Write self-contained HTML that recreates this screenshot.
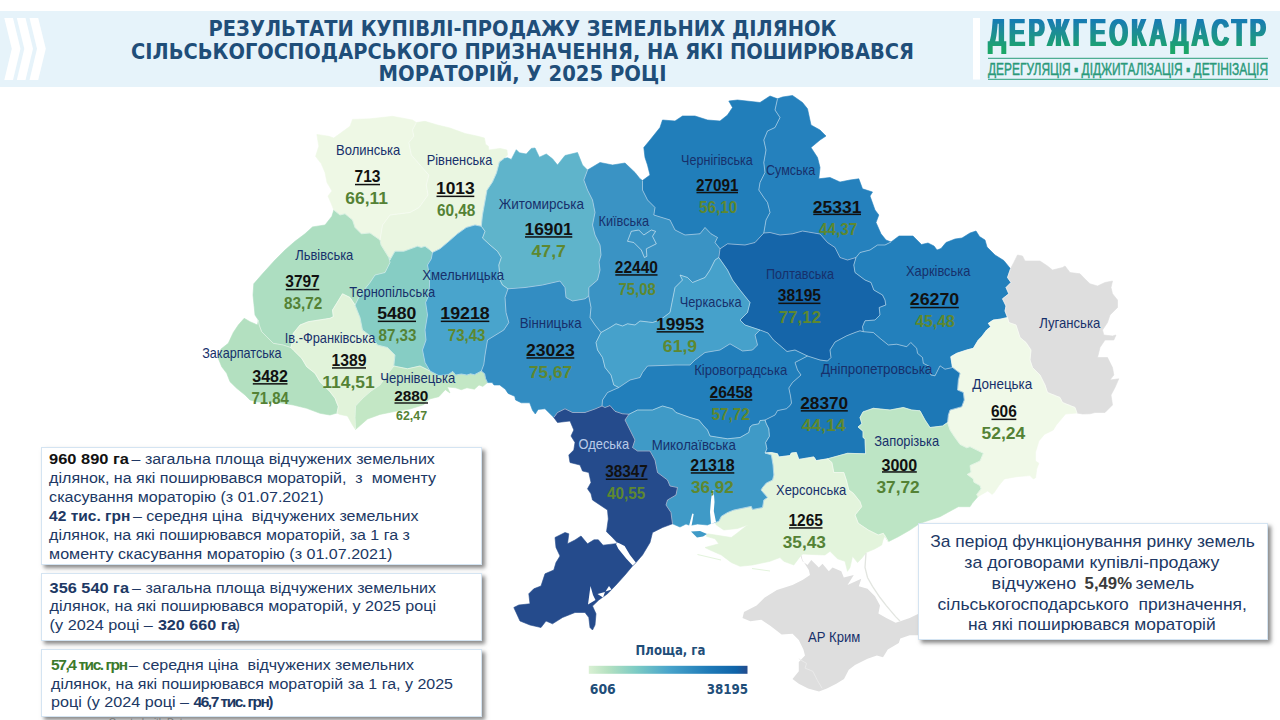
<!DOCTYPE html>
<html lang="uk"><head><meta charset="utf-8"><title>Результати купівлі-продажу земельних ділянок</title>
<style>
html,body{margin:0;padding:0;background:#fff}
body{width:1280px;height:720px;overflow:hidden;position:relative;font-family:"Liberation Sans", sans-serif}
#band{position:absolute;left:0;top:11px;width:1280px;height:76px;background:#e6f3fa}
svg{position:absolute;left:0;top:0}
.box{position:absolute;background:#fff;border:1px solid #d4e4f2;box-sizing:border-box;box-shadow:2.5px 3px 4px rgba(60,60,60,.6)}
text{font-family:"Liberation Sans", sans-serif;white-space:pre}
</style></head><body>
<div id="band"></div>
<svg id="map" width="1280" height="720" viewBox="0 0 1280 720">
<defs><linearGradient id="leg" x1="0" x2="1" y1="0" y2="0">
<stop offset="0" stop-color="#d9f0d3"/><stop offset="0.12" stop-color="#b5e1c1"/><stop offset="0.3" stop-color="#7ccbc4"/>
<stop offset="0.5" stop-color="#4aa5cb"/><stop offset="0.75" stop-color="#1f7bb8"/><stop offset="0.93" stop-color="#0f63a8"/><stop offset="1" stop-color="#254b8c"/>
</linearGradient></defs>
<g>
<path d="M4.3 18H13L20.5 48.8 13 80H4.3L11.8 48.8Z M16.8 18H25.5L33 48.8 25.5 80H16.8L24.3 48.8Z M29.5 18H38.2L45.8 48.8 38.2 80H29.5L37 48.8Z" fill="#fff"/>
</g>
<g id="regions">
<path d="M801.3 555 802.5 560 808.8 570 810 575 802.5 580 792.5 585 776.9 590 764.4 597.8 756.6 605.6 744 611.9 742.5 618.1 750.3 621.3 761.3 619.7 770.6 625.9 781.6 634.5 792.5 633.8 798.8 640 803.4 649.4 805 655.6 798.8 661.9 798.8 671.3 792.5 679 798.8 683.8 808.1 688.4 819 691.6 826.9 688.4 836.3 683.8 844 679 848.8 669.7 855 665 867.5 658.8 876.9 655.6 883 657.2 887.8 649.4 898.8 643 900.3 638.4 909.7 635.3 919 635.3 930 634 930 612 919 613.4 909.7 618.1 900.3 621.3 895.6 622.8 886.3 618.1 878.4 613.4 880 605.6 875 596.3 867.5 588.8 858.8 586.3 861.3 578.8 847.5 585 853.8 575 843.8 577.5 841.3 571.3 832.5 567.5 828.8 571.3 822.5 563.8 818.8 567.5 811.3 560 807.5 565 802.5 561.3 800.5 556Z" fill="#dedede"/>
<path d="M333.8 210 331 203 328 196 332 191 327 182.5 325 172.5 321.3 163.8 315.6 156.3 318.8 146.3 316.9 134.4 328.8 136.3 333.8 138 350 126.3 352.5 119.4 370 118.8 392.5 116.3 412.5 120 416.3 122.5 412.5 130 413.8 136.3 408.8 142.5 411.3 155 420 165 428.8 175 426.3 185 428 195 419 207.5 410 212.5 390 215 382.5 225 380 240 370 233 361.3 233.8 355 227.5 352.5 220 345 213.8 340 215Z" fill="#eef8e5" stroke="#eef8e5" stroke-width="0.6"/>
<path d="M416.3 122.5 425 121.3 437.5 125 450 128 465 133.5 478 136.3 484.4 138 485.6 144.4 488.4 146.3 488.8 150 500 148.4 506.9 150 507.5 155 504 158.5 499.4 162 498 167.5 496.5 173 492.5 182 487 190.3 484.5 204 482.5 215 481.3 226.3 475 225 466.3 227.5 457.5 233.8 447.5 242.5 440 248.8 432.5 252.5 430 250 425 246.3 421.3 247.5 417.5 246.3 403.8 251.3 395 251.3 390 260 388.8 257.5 381 245 380 240 382.5 225 390 215 410 212.5 419 207.5 428 195 426.3 185 428.8 175 420 165 411.3 155 408.8 142.5 413.8 136.3 412.5 130Z" fill="#eaf6e1" stroke="#eaf6e1" stroke-width="0.6"/>
<path d="M258.3 320 255 315 254.2 306.7 253 295 253.8 283.8 262.5 273.8 275 260 285 250 295 241.3 305 233.8 312.5 226.9 325 225 331.9 216.3 333.8 210 340 215 345 213.8 352.5 220 355 227.5 361.3 233.8 370 233 380 240 381 245 388.8 257.5 390 262.5 385 272.5 375 275 370 282.5 360 295 355 305 350 297.5 342.5 293.8 336.7 303.3 332.5 310 333.3 316.7 330 318.3 308.3 321.7 300 325 293.3 333.3 292.5 341.7 290.8 347.5 283.3 345 273.3 343.3 266.7 336.7 261.7 331.7 259.2 325Z" fill="#addec1" stroke="#addec1" stroke-width="0.6"/>
<path d="M337 413 330 415 320 413.3 306.7 408.3 293.3 405 275 402 258 402 250 400 245 395 236.7 388.3 230 381.7 226.7 373.3 221.7 366.7 218.3 358.3 221 349 228.3 343.3 233.3 332.5 238.3 325 244.2 318.3 250 321.7 257.5 325 258.3 320 259.2 325 261.7 331.7 266.7 336.7 273.3 343.3 283.3 345 290.8 347.5 293.3 350 301.7 358.3 306.7 366.7 315 373.3 320 381.7 330 391.7 335 398.3 338.3 406.7Z" fill="#b3e0c0" stroke="#b3e0c0" stroke-width="0.6"/>
<path d="M355.5 429.5 352.5 425 347.5 416 340 414.5 337 413 338.3 406.7 335 398.3 330 391.7 320 381.7 315 373.3 306.7 366.7 301.7 358.3 293.3 350 290.8 347.5 292.5 341.7 293.3 333.3 300 325 308.3 321.7 330 318.3 333.3 316.7 332.5 310 336.7 303.3 342.5 293.8 350 297.5 355 305 360 317.5 362.5 330 372.5 337.5 377.5 345 387.5 347.5 395 355 393.8 366 387 375 380 385 371 391 363 398 355.5 406 355 417.5Z" fill="#e1f3da" stroke="#e1f3da" stroke-width="0.6"/>
<path d="M388.8 257.5 390 260 395 251.3 403.8 251.3 417.5 246.3 421.3 247.5 425 246.3 430 250 432.5 252.5 431.3 258.8 427.5 265 429.5 276 429.5 286 428.5 296 425.6 302.5 427.5 315 425 330 426 340 422.5 350 425 362.5 430 371 420 366 407.5 368.8 393.8 366 395 355 387.5 347.5 377.5 345 372.5 337.5 362.5 330 360 317.5 355 305 360 295 370 282.5 375 275 385 272.5 390 262.5Z" fill="#86cdc4" stroke="#86cdc4" stroke-width="0.6"/>
<path d="M487.5 382.6 482.8 386.4 479 385 474.4 389.2 466.9 387.8 461.3 389.7 455.6 387.8 447.2 386.9 450 393 445.3 389.7 438.8 396.7 429.4 399 423.8 404.7 410 409 395.6 411.3 380 414.4 367.5 419 355.5 429.5 355 417.5 355.5 406 363 398 371 391 380 385 387 375 393.8 366 407.5 368.8 420 366 430 371 438.8 375.6 448 374.7 452.8 371.4 455.6 375 461.3 374 466.9 375 470.6 373.8 474.4 374.7 481.4 371 484.7 373.8 485.6 378.4Z" fill="#c3e7c5" stroke="#c3e7c5" stroke-width="0.6"/>
<path d="M432.5 252.5 440 248.8 447.5 242.5 457.5 233.8 466.3 227.5 475 225 481.3 226.3 485 231.3 482.5 238 490 245 497.5 251.3 501.3 257.5 498.8 265 499.5 272 500 280 502.5 285 508 288.8 505 297.5 506 312.5 508.8 322.5 503.8 330 487.5 340 485 355 483.8 364.4 481.4 371 474.4 374.7 470.6 373.8 466.9 375 461.3 374 455.6 375 452.8 371.4 448 374.7 438.8 375.6 430 371 425 362.5 422.5 350 426 340 425 330 427.5 315 425.6 302.5 428.5 296 429.5 286 429.5 276 427.5 265 431.3 258.8Z" fill="#49a4cc" stroke="#49a4cc" stroke-width="0.6"/>
<path d="M504 158.5 507.5 157.8 511.3 159.4 516.3 149.7 519.4 152.8 526.3 154 531.3 148.4 535 148 539.4 157.2 546.3 154 552.5 158.8 557.5 165 565 155.5 577.5 152.5 582.5 165 587.5 170 583.8 180 587.5 190 592.5 200 595 212.5 592.5 225 595 235 600 245 601 255 599 262 600 270 597.5 280 588.8 287.5 588.8 296 585 298.8 572.5 301 566 297.5 565 287.5 560 281 542.5 285 525 287.5 508 288.8 502.5 285 500 280 499.5 272 498.8 265 501.3 257.5 497.5 251.3 490 245 482.5 238 485 231.3 481.3 226.3 482.5 215 484.5 204 487 190.3 492.5 182 496.5 173 498 167.5 499.4 162Z" fill="#5fb4cb" stroke="#5fb4cb" stroke-width="0.6"/>
<path d="M553.8 417.5 545 408.8 538.1 409.4 535.3 414 532.5 410.3 529.7 402.8 521.3 402.8 515.6 400 514.7 396.3 508.1 393.4 505.3 389.2 499.7 385 494 385 492.2 382.6 487.5 382.6 485.6 378.4 484.7 373.8 481.4 371 483.8 364.4 485 355 487.5 340 503.8 330 508.8 322.5 506 312.5 505 297.5 508 288.8 525 287.5 542.5 285 560 281 565 287.5 566 297.5 572.5 301 585 298.8 588.8 296 591 307.5 590 317.5 595 325 601 332.5 596 342.5 597.5 350 602.5 357.5 605 367.5 611 375 613.8 385 618.8 387.5 607.5 392.5 602.5 400 602 406 595 409 585 412.5 572.5 412.5 565 408.8 557.5 412.5Z" fill="#338dc2" stroke="#338dc2" stroke-width="0.6"/>
<path d="M587.5 170 600 162.5 612.5 165 625 163 635 172.5 640 178.8 642.5 180.5 642.5 190 647.5 200 655 207.5 653.8 215 670 220 675 230 685 235 700 233.8 705 227.5 711 233.8 717.5 237.5 715 242.5 720 248.8 718.8 257.5 715 260 710 270 705 277.5 692.5 282.5 687.5 277.5 680 275 682.5 280 675 287.5 672.5 300 670 312.5 660 320 652.5 322.5 640 321 635 325 627.5 323.8 622.5 326 616 323.8 610 327.5 601 332.5 595 325 590 317.5 591 307.5 588.8 296 588.8 287.5 597.5 280 600 270 599 262 601 255 600 245 595 235 592.5 225 595 212.5 592.5 200 587.5 190 583.8 180Z" fill="#3a93c4" stroke="#3a93c4" stroke-width="0.6"/>
<path d="M642.5 180.5 650 175 647.5 165 645 157.5 643.8 147.5 650 140 660 127.5 662.5 120 675 121 682.5 116 695 116 707.5 120 720 121 727.5 115 732.5 107.5 728.8 101 737.5 100 760 102.5 770 96 777.5 98.8 775 110 780 117.5 775 127.5 767.5 131 763.8 140 766 150 763.8 162.5 765 172.5 760 182.5 758.8 190 763.8 197.5 767.5 202.5 770 212.5 766 220 763.8 233 755 242.5 745 245 727.5 243.8 720 248.8 715 242.5 717.5 237.5 711 233.8 705 227.5 700 233.8 685 235 675 230 670 220 653.8 215 655 207.5 647.5 200 642.5 190Z" fill="#217eba" stroke="#217eba" stroke-width="0.6"/>
<path d="M777.5 98.8 782.5 97 792.5 95.5 802.5 102.5 807.5 108.8 811 125 820 130 826 136 820 140 811 147.5 817.5 157.5 820 167.5 818.8 178.8 830 177.5 840 182 850 180 858.8 178.8 862.5 188.8 872.5 192 870 196 875 210 878.8 215 876 222.5 881 233.8 886 240 891 242 885 245 877.5 245 870 250 860 252.5 856 257.5 847.5 260 840 257.5 835 247.5 827.5 242.5 820 234 802.5 231 792.5 233.8 780 235 770 232.5 763.8 233 766 220 770 212.5 767.5 202.5 763.8 197.5 758.8 190 760 182.5 765 172.5 763.8 162.5 766 150 763.8 140 767.5 131 775 127.5 780 117.5 775 110Z" fill="#2581bd" stroke="#2581bd" stroke-width="0.6"/>
<path d="M763.8 233 770 232.5 780 235 792.5 233.8 802.5 231 820 234 827.5 242.5 835 247.5 840 257.5 847.5 260 856 257.5 853.8 265 855 272.5 865 280 871 282.5 873.8 290 882.5 295 885 300 885.8 305 879.2 307.5 880 315 875 320 865 320.8 862.5 326.7 863.3 331.7 860 330.8 855 332.5 846.7 335.8 835 342 830 350 831 357.5 827.5 361 820 360 807.5 356 795 350 787 351.5 780 345.5 773.5 340 768 333 760 330 745 325 740 320 747.5 312.5 750 302.5 740 290 732.5 280 727.5 270 718.8 257.5 720 248.8 727.5 243.8 745 245 755 242.5Z" fill="#1565a9" stroke="#1565a9" stroke-width="0.6"/>
<path d="M601 332.5 610 327.5 616 323.8 622.5 326 627.5 323.8 635 325 640 321 652.5 322.5 660 320 670 312.5 672.5 300 675 287.5 682.5 280 680 275 687.5 277.5 692.5 282.5 705 277.5 710 270 715 260 718.8 257.5 727.5 270 732.5 280 740 290 750 302.5 747.5 312.5 740 320 745 325 760 330 755 335 757.5 345 752.5 350 742.5 351 730 343.8 720 350 705 352.5 695 360 690 365 675 365 647.5 366 642.5 372.5 640 377.5 630 380 618.8 387.5 613.8 385 611 375 605 367.5 602.5 357.5 597.5 350 596 342.5Z" fill="#46a1cb" stroke="#46a1cb" stroke-width="0.6"/>
<path d="M618.8 387.5 630 380 640 377.5 642.5 372.5 647.5 366 675 365 690 365 695 360 705 352.5 720 350 730 343.8 742.5 351 752.5 350 757.5 345 755 335 760 330 768 333 773.5 340 780 345.5 787 351.5 795 350 807.5 356 795 362.5 797.5 370 801 375 792.5 382.5 788.8 388 790.5 396 791.5 403 790 405.6 786.3 408.8 777.5 410.6 775 415 770 417.5 765 420 760 420.6 758.8 423.8 752.5 425 750 426.9 748.8 432.5 740 437.5 727.5 438.8 710 436 707.5 430 703.8 426 698.8 420 690 417.5 676 412.5 672.5 408.8 662.5 406 652.5 410 637.5 410 629 414.2 622.5 413.8 615 411.3 610 405.6 605 407.5 602 406 602.5 400 607.5 392.5Z" fill="#227fbb" stroke="#227fbb" stroke-width="0.6"/>
<path d="M891 242 899 236 913 236 921.5 244.5 928 243 934 246 937 250 941 248.5 946 242.5 955 239 962 238 970 233 976 231 979.5 236.5 985 240 987 247 995 255 1003.8 260.5 1010.5 268.8 1007.5 277.5 1011 282.5 1006 287.5 1008.8 293.8 1002.5 298.8 1006 306 1005 311 1007.5 317.5 1000 319.2 993.3 320 988.3 323.3 990.8 326.7 986.7 330 981.7 336.7 978.3 340 973.3 348.3 966.7 350 956.7 353.3 950.8 356.7 952.5 367.5 945 369.2 940 365.8 935 375.8 930.8 375 930 366.7 923.3 363.3 922.5 357.5 917.5 353.3 916.7 348.3 910.8 342.5 906.7 346.7 896.7 344.2 888.3 345 880 338.3 873.3 332.5 863.3 331.7 862.5 326.7 865 320.8 875 320 880 315 879.2 307.5 885.8 305 885 300 882.5 295 873.8 290 871 282.5 865 280 855 272.5 853.8 265 856 257.5 860 252.5 870 250 877.5 245 885 245Z" fill="#2380bc" stroke="#2380bc" stroke-width="0.6"/>
<path d="M1010.5 268.8 1013.8 262.5 1017.5 255 1022.5 256 1025 261 1040 261 1047.5 266 1052.5 270 1062.5 267.5 1065 266 1070 272.5 1080 273.8 1086 280 1090 283.8 1097.5 286 1105 282.5 1112.5 281 1111 287.5 1112.5 293.8 1117.5 300 1117.5 307.5 1110 315 1107.5 322.5 1102.5 330 1103.8 335 1112.5 336 1116 335 1113.8 340 1105 340 1100 347.5 1097.5 357.5 1107.5 357.5 1112.5 367.5 1113.8 375 1110 380 1118.8 378.8 1115 387.5 1111 395 1112.5 405 1105 412.5 1095 412.5 1090 413.8 1082.5 414 1077 413 1075 407.5 1062.5 402.5 1060 397.5 1047.5 392.5 1045 385 1040 375 1032.5 367.5 1030 360 1031 350 1026 342.5 1020 337.5 1016 325 1008.8 322.5 1007.5 317.5 1005 311 1006 306 1002.5 298.8 1008.8 293.8 1006 287.5 1011 282.5 1007.5 277.5Z" fill="#dedede" stroke="#dedede" stroke-width="0.6"/>
<path d="M1077 413 1065.6 414 1056.3 425 1053.3 430 1044.4 434.4 1038.9 441 1035.6 452 1035.6 461 1038.9 463.3 1036.7 468.9 1035.6 477.8 1033.3 478.9 1030 475.6 1016.7 476.7 1004.4 478.9 998.9 485.6 994.4 492.2 992.2 494.4 987.8 491 977.8 496.7 976.7 494.4 981 488.9 980 485.6 973.9 482.2 973.3 478.9 967.2 474.4 971 472.2 970 465.6 980 461 983.3 453.3 970 446.7 966.7 447.8 960 444.4 954.4 436.7 950 430 947.5 422.5 948.3 415 950 410 961.7 406.7 964.2 400 963.3 392.5 957.5 390 958.3 380 960 373.3 952.5 367.5 950.8 356.7 956.7 353.3 966.7 350 973.3 348.3 978.3 340 981.7 336.7 986.7 330 990.8 326.7 988.3 323.3 993.3 320 1000 319.2 1007.5 317.5 1008.8 322.5 1016 325 1020 337.5 1026 342.5 1031 350 1030 360 1032.5 367.5 1040 375 1045 385 1047.5 392.5 1060 397.5 1062.5 402.5 1075 407.5Z" fill="#f0f9e8" stroke="#f0f9e8" stroke-width="0.6"/>
<path d="M863.3 331.7 873.3 332.5 880 338.3 888.3 345 896.7 344.2 906.7 346.7 910.8 342.5 916.7 348.3 917.5 353.3 922.5 357.5 923.3 363.3 930 366.7 930.8 375 935 375.8 940 365.8 945 369.2 952.5 367.5 960 373.3 958.3 380 957.5 390 963.3 392.5 964.2 400 961.7 406.7 950 410 948.3 415 947.5 422.5 942.5 426 930 427.5 925 420 920 410.8 911.7 410 903.3 407.5 890 410 873.3 408.3 863 411.9 860 417.5 861.9 423.8 858 426.9 863 431.3 863 437.5 865 438.8 865.6 453.8 847.5 453.3 827.5 458.8 816.3 460.6 813.8 456.9 798.8 459.4 796.3 452.5 791.3 453 790 455.6 778.8 456.9 777.5 453.8 771.3 452.5 765 453 766.9 448.8 765.6 442.5 769.4 436.3 768.8 428.8 766.3 423.8 765 420 770 417.5 775 415 777.5 410.6 786.3 408.8 790 405.6 791.5 403 790.5 396 788.8 388 792.5 382.5 801 375 797.5 370 795 362.5 807.5 356 820 360 827.5 361 831 357.5 830 350 835 342 846.7 335.8 855 332.5 860 330.8Z" fill="#1d78b6" stroke="#1d78b6" stroke-width="0.6"/>
<path d="M977.8 496.7 972.2 503.3 970 506.7 958.3 506.7 940 516.7 920 523.3 910 530 898.3 536.7 888.3 541.7 883.3 533.3 878.3 535 868.3 530 858.3 523.3 855 515 861.7 506.7 860 501.7 853.3 493.3 848.8 490 846.3 480 843.8 472.5 833.8 472.5 831.9 462.5 827.5 458.8 847.5 453.3 865.6 453.8 865 438.8 863 437.5 863 431.3 858 426.9 861.9 423.8 860 417.5 863 411.9 873.3 408.3 890 410 903.3 407.5 911.7 410 920 410.8 925 420 930 427.5 942.5 426 947.5 422.5 950 430 954.4 436.7 960 444.4 966.7 447.8 970 446.7 983.3 453.3 980 461 970 465.6 971 472.2 967.2 474.4 973.3 478.9 973.9 482.2 980 485.6 981 488.9 976.7 494.4Z" fill="#bde5c5" stroke="#bde5c5" stroke-width="0.6"/>
<path d="M888.3 541.7 885 535.5 883 540 881.7 545 875 548.8 866.3 552.5 861.3 558.8 857.5 562.5 852.5 556.3 850 567.5 847.5 571.3 845 561.3 837.5 558.8 830 551.3 825 555 812 554.5 803 554 801.3 555 793.8 565 783.8 561.3 780 557.5 770 561.3 752.5 565 740 566.3 731.3 562.5 721.3 555 710 550 705 547.5 718.8 543.8 715 538.8 706.3 536.3 707.5 533.8 731.3 537.5 736.3 533.8 747.5 525 737.5 528.5 723.8 530 716.3 525 715 522.5 718.8 521.3 721.3 516.3 727.5 512.5 733.8 510 751.3 506.3 752.5 509.4 762.5 507.5 763.8 500 767.5 497.5 761 490 762.5 487.5 766.3 483 772.5 480 773.8 475 773 465 771.3 455 765 453 771.3 452.5 777.5 453.8 778.8 456.9 790 455.6 791.3 453 796.3 452.5 798.8 459.4 813.8 456.9 816.3 460.6 827.5 458.8 831.9 462.5 833.8 472.5 843.8 472.5 846.3 480 848.8 490 853.3 493.3 860 501.7 861.7 506.7 855 515 858.3 523.3 868.3 530 878.3 535 883.3 533.3Z" fill="#e3f4dc" stroke="#e3f4dc" stroke-width="0.6"/>
<path d="M715 522.5 712 523 707.5 525 697.5 524 690 525.5 686 524 680 527 672.5 523.8 671 512.5 666 505 667.5 500 676 495 677.5 487.5 670 486 667.5 480 657.5 472.5 655 460 650 451 637.5 451 632.5 447.5 635 440 630 430 625 420 629 414.2 637.5 410 652.5 410 662.5 406 672.5 408.8 676 412.5 690 417.5 698.8 420 703.8 426 707.5 430 710 436 727.5 438.8 740 437.5 748.8 432.5 750 426.9 752.5 425 758.8 423.8 760 420.6 765 420 766.3 423.8 768.8 428.8 769.4 436.3 765.6 442.5 766.9 448.8 765 453 771.3 455 773 465 773.8 475 772.5 480 766.3 483 762.5 487.5 761 490 767.5 497.5 763.8 500 762.5 507.5 752.5 509.4 751.3 506.3 733.8 510 727.5 512.5 721.3 516.3 718.8 521.3Z" fill="#3f9ac7" stroke="#3f9ac7" stroke-width="0.6"/>
<path d="M672.5 523.8 662.5 527.5 652.5 532.5 650 542.5 642.5 555 636 562.5 632.5 566 625 575 616 585 607.5 593.8 598.8 600 592.5 606 596 613.8 595 625 592.5 630 590 627.5 588.8 617.5 585 612.5 575 612.5 562.5 617.5 552.5 623.8 546 621 541 627.5 530 625 520 621 513.8 607.5 518.8 605 530 603.8 528.8 593.8 533.8 588.8 541 586 545 573.8 553.8 570 556 562.5 560 556 556 547.5 555 537.5 565 532.5 568.8 533.8 567.5 543.8 575 540 581 536 587.5 543.8 594 539.8 598.3 539.8 603 545.2 615.5 543.7 617.4 542.8 612 537 606.5 531.7 608.3 519 607.5 510 600 505 592.5 500 591 493.8 587.5 488.8 591 482.5 588.8 472.5 582.5 471 580 465 570 462.5 568.8 455 573.8 450 575 442.5 571 436 573.8 430 570 421 557.5 422.5 553.8 417.5 557.5 412.5 565 408.8 572.5 412.5 585 412.5 595 409 602 406 605 407.5 610 405.6 615 411.3 622.5 413.8 629 414.2 625 420 630 430 635 440 632.5 447.5 637.5 451 650 451 655 460 657.5 472.5 667.5 480 670 486 677.5 487.5 676 495 667.5 500 666 505 671 512.5Z" fill="#254b8c" stroke="#254b8c" stroke-width="0.6"/>
<path d="M481.4 371 484.7 373.8 485.6 378.4 487.5 382.6 M416.3 122.5 412.5 130 413.8 136.3 408.8 142.5 411.3 155 420 165 428.8 175 426.3 185 428 195 419 207.5 410 212.5 390 215 382.5 225 380 240 M333.8 210 340 215 345 213.8 352.5 220 355 227.5 361.3 233.8 370 233 380 240 M380 240 381 245 388.8 257.5 M388.8 257.5 390 260 395 251.3 403.8 251.3 417.5 246.3 421.3 247.5 425 246.3 430 250 432.5 252.5 M432.5 252.5 440 248.8 447.5 242.5 457.5 233.8 466.3 227.5 475 225 481.3 226.3 M504 158.5 499.4 162 498 167.5 496.5 173 492.5 182 487 190.3 484.5 204 482.5 215 481.3 226.3 M481.3 226.3 485 231.3 482.5 238 490 245 497.5 251.3 501.3 257.5 498.8 265 499.5 272 500 280 502.5 285 508 288.8 M388.8 257.5 390 262.5 385 272.5 375 275 370 282.5 360 295 355 305 M355 305 350 297.5 342.5 293.8 336.7 303.3 332.5 310 333.3 316.7 330 318.3 308.3 321.7 300 325 293.3 333.3 292.5 341.7 290.8 347.5 M258.3 320 259.2 325 261.7 331.7 266.7 336.7 273.3 343.3 283.3 345 290.8 347.5 M290.8 347.5 293.3 350 301.7 358.3 306.7 366.7 315 373.3 320 381.7 330 391.7 335 398.3 338.3 406.7 337 413 M355 305 360 317.5 362.5 330 372.5 337.5 377.5 345 387.5 347.5 395 355 393.8 366 M393.8 366 387 375 380 385 371 391 363 398 355.5 406 355 417.5 355.5 429.5 M393.8 366 407.5 368.8 420 366 430 371 M432.5 252.5 431.3 258.8 427.5 265 429.5 276 429.5 286 428.5 296 425.6 302.5 427.5 315 425 330 426 340 422.5 350 425 362.5 430 371 M430 371 438.8 375.6 448 374.7 452.8 371.4 455.6 375 461.3 374 466.9 375 470.6 373.8 474.4 374.7 481.4 371 M508 288.8 505 297.5 506 312.5 508.8 322.5 503.8 330 487.5 340 485 355 483.8 364.4 481.4 371 M508 288.8 525 287.5 542.5 285 560 281 565 287.5 566 297.5 572.5 301 585 298.8 588.8 296 M587.5 170 583.8 180 587.5 190 592.5 200 595 212.5 592.5 225 595 235 600 245 601 255 599 262 600 270 597.5 280 588.8 287.5 588.8 296 M588.8 296 591 307.5 590 317.5 595 325 601 332.5 M601 332.5 610 327.5 616 323.8 622.5 326 627.5 323.8 635 325 640 321 652.5 322.5 660 320 670 312.5 672.5 300 675 287.5 682.5 280 680 275 687.5 277.5 692.5 282.5 705 277.5 710 270 715 260 718.8 257.5 M642.5 180.5 642.5 190 647.5 200 655 207.5 653.8 215 670 220 675 230 685 235 700 233.8 705 227.5 711 233.8 717.5 237.5 715 242.5 720 248.8 M720 248.8 718.8 257.5 M777.5 98.8 775 110 780 117.5 775 127.5 767.5 131 763.8 140 766 150 763.8 162.5 765 172.5 760 182.5 758.8 190 763.8 197.5 767.5 202.5 770 212.5 766 220 763.8 233 M720 248.8 727.5 243.8 745 245 755 242.5 763.8 233 M763.8 233 770 232.5 780 235 792.5 233.8 802.5 231 820 234 827.5 242.5 835 247.5 840 257.5 847.5 260 856 257.5 M856 257.5 860 252.5 870 250 877.5 245 885 245 891 242 M856 257.5 853.8 265 855 272.5 865 280 871 282.5 873.8 290 882.5 295 885 300 885.8 305 879.2 307.5 880 315 875 320 865 320.8 862.5 326.7 863.3 331.7 M718.8 257.5 727.5 270 732.5 280 740 290 750 302.5 747.5 312.5 740 320 745 325 760 330 M760 330 768 333 773.5 340 780 345.5 787 351.5 795 350 807.5 356 M807.5 356 820 360 827.5 361 831 357.5 830 350 835 342 846.7 335.8 855 332.5 860 330.8 863.3 331.7 M863.3 331.7 873.3 332.5 880 338.3 888.3 345 896.7 344.2 906.7 346.7 910.8 342.5 916.7 348.3 917.5 353.3 922.5 357.5 923.3 363.3 930 366.7 930.8 375 935 375.8 940 365.8 945 369.2 952.5 367.5 M1010.5 268.8 1007.5 277.5 1011 282.5 1006 287.5 1008.8 293.8 1002.5 298.8 1006 306 1005 311 1007.5 317.5 M1007.5 317.5 1000 319.2 993.3 320 988.3 323.3 990.8 326.7 986.7 330 981.7 336.7 978.3 340 973.3 348.3 966.7 350 956.7 353.3 950.8 356.7 952.5 367.5 M1007.5 317.5 1008.8 322.5 1016 325 1020 337.5 1026 342.5 1031 350 1030 360 1032.5 367.5 1040 375 1045 385 1047.5 392.5 1060 397.5 1062.5 402.5 1075 407.5 1077 413 M952.5 367.5 960 373.3 958.3 380 957.5 390 963.3 392.5 964.2 400 961.7 406.7 950 410 948.3 415 947.5 422.5 M947.5 422.5 942.5 426 930 427.5 925 420 920 410.8 911.7 410 903.3 407.5 890 410 873.3 408.3 863 411.9 860 417.5 861.9 423.8 858 426.9 863 431.3 863 437.5 865 438.8 865.6 453.8 847.5 453.3 827.5 458.8 M947.5 422.5 950 430 954.4 436.7 960 444.4 966.7 447.8 970 446.7 983.3 453.3 980 461 970 465.6 971 472.2 967.2 474.4 973.3 478.9 973.9 482.2 980 485.6 981 488.9 976.7 494.4 977.8 496.7 M827.5 458.8 831.9 462.5 833.8 472.5 843.8 472.5 846.3 480 848.8 490 853.3 493.3 860 501.7 861.7 506.7 855 515 858.3 523.3 868.3 530 878.3 535 883.3 533.3 888.3 541.7 M765 453 771.3 452.5 777.5 453.8 778.8 456.9 790 455.6 791.3 453 796.3 452.5 798.8 459.4 813.8 456.9 816.3 460.6 827.5 458.8 M765 420 766.3 423.8 768.8 428.8 769.4 436.3 765.6 442.5 766.9 448.8 765 453 M807.5 356 795 362.5 797.5 370 801 375 792.5 382.5 788.8 388 790.5 396 791.5 403 790 405.6 786.3 408.8 777.5 410.6 775 415 770 417.5 765 420 M629 414.2 637.5 410 652.5 410 662.5 406 672.5 408.8 676 412.5 690 417.5 698.8 420 703.8 426 707.5 430 710 436 727.5 438.8 740 437.5 748.8 432.5 750 426.9 752.5 425 758.8 423.8 760 420.6 765 420 M765 453 771.3 455 773 465 773.8 475 772.5 480 766.3 483 762.5 487.5 761 490 767.5 497.5 763.8 500 762.5 507.5 752.5 509.4 751.3 506.3 733.8 510 727.5 512.5 721.3 516.3 718.8 521.3 715 522.5 M629 414.2 625 420 630 430 635 440 632.5 447.5 637.5 451 650 451 655 460 657.5 472.5 667.5 480 670 486 677.5 487.5 676 495 667.5 500 666 505 671 512.5 672.5 523.8 M602 406 605 407.5 610 405.6 615 411.3 622.5 413.8 629 414.2 M553.8 417.5 557.5 412.5 565 408.8 572.5 412.5 585 412.5 595 409 602 406 M618.8 387.5 607.5 392.5 602.5 400 602 406 M601 332.5 596 342.5 597.5 350 602.5 357.5 605 367.5 611 375 613.8 385 618.8 387.5 M618.8 387.5 630 380 640 377.5 642.5 372.5 647.5 366 675 365 690 365 695 360 705 352.5 720 350 730 343.8 742.5 351 752.5 350 757.5 345 755 335 760 330" fill="none" stroke="#ffffff" stroke-opacity="0.48" stroke-width="1" stroke-linejoin="round"/>
<path d="M627.5 241.3 631.3 231.3 638.8 230 643.8 235 651.3 230 655.6 231.3 652.5 236.3 656.3 243.8 646.3 248.8 646.9 256.3 644.4 257.5 641.3 250 633.8 242.5Z" fill="none" stroke="#ffffff" stroke-opacity="0.55" stroke-width="1" stroke-linejoin="round"/>
<path d="M866 553 865 567.5 867.5 577.5 872.5 586.3 880 597.5 886.3 605.6 895.6 616.6 900 621" fill="none" stroke="#e2e5e0" stroke-width="1.3"/>
<path d="M798.8 658.8 806.6 663.4 805 668.1 812.8 671.3 817.5 680.6 822.2 688.4" fill="none" stroke="#ececec" stroke-width="0.8"/>
<path d="M697.5 554.5L721 560M752 568.5L770 571" fill="none" stroke="#e3f4dc" stroke-width="1"/>
<path d="M711 524 710 512 711 500 712.3 490 713.7 490 714.5 502 713.8 511 716 522Z" fill="#fff"/>
<path d="M689 526 692.3 513.5 693.7 514 691.5 526Z" fill="#fff"/>
<path d="M617.2 542.6 619.2 543.2 624.6 546 630 555 635.8 562.4 632.7 565.4 626.4 558.7 618.3 548.8 616 544Z" fill="#fff"/>
<path d="M590.5 586 588 604.5 595.5 600 593 595Z" fill="#fff"/>
<path d="M597.5 594 603 597.5 605 592Z" fill="#fff"/>
<path d="M605.5 591.5 611.5 589.5 609 586Z" fill="#fff"/>
<path d="M691 531.5 700 531 707 534 703 536.5 697 537.5Z" fill="#3f9ac7"/>
</g>
<rect x="588.8" y="665.8" width="158.7" height="8" fill="url(#leg)"/>
</svg>
<div class="box" style="left:41px;top:447px;width:441px;height:118px"></div>
<div class="box" style="left:41px;top:573px;width:441px;height:68px"></div>
<div class="box" style="left:41px;top:649px;width:441px;height:68px"></div>
<div class="box" style="left:918px;top:523px;width:350px;height:117px"></div>
<svg id="txt" width="1280" height="720" viewBox="0 0 1280 720">
<defs><linearGradient id="lg" x1="0" x2="0" y1="18" y2="50" gradientUnits="userSpaceOnUse">
<stop offset="0" stop-color="#1878b8"/><stop offset="1" stop-color="#1fa668"/></linearGradient>
<filter id="fat" x="-0.02" y="-0.1" width="1.04" height="1.2"><feMorphology operator="dilate" radius="1 0"/></filter></defs>
<text x="336" y="154.9" font-size="15" font-weight="normal" fill="#17306b" textLength="64.3" lengthAdjust="spacingAndGlyphs">Волинська</text>
<text x="354.5" y="182" font-size="16" font-weight="bold" fill="#111" textLength="25.9" lengthAdjust="spacingAndGlyphs">713</text>
<rect x="355" y="183.8" width="25" height="1.5" fill="#111"/>
<text x="345.3" y="203.7" font-size="16" font-weight="bold" fill="#548235" textLength="42.6" lengthAdjust="spacingAndGlyphs">66,11</text>
<text x="426.7" y="164.9" font-size="15" font-weight="normal" fill="#17306b" textLength="65.6" lengthAdjust="spacingAndGlyphs">Рівненська</text>
<text x="436" y="193.7" font-size="16" font-weight="bold" fill="#111" textLength="38.7" lengthAdjust="spacingAndGlyphs">1013</text>
<rect x="436.5" y="195.6" width="37.8" height="1.5" fill="#111"/>
<text x="437" y="215.7" font-size="16" font-weight="bold" fill="#548235" textLength="38.4" lengthAdjust="spacingAndGlyphs">60,48</text>
<text x="295.2" y="259.9" font-size="15" font-weight="normal" fill="#17306b" textLength="58.1" lengthAdjust="spacingAndGlyphs">Львівська</text>
<text x="285.3" y="287" font-size="16" font-weight="bold" fill="#111" textLength="34.4" lengthAdjust="spacingAndGlyphs">3797</text>
<rect x="285.8" y="288.8" width="33.5" height="1.5" fill="#111"/>
<text x="284" y="309" font-size="16" font-weight="bold" fill="#548235" textLength="38.2" lengthAdjust="spacingAndGlyphs">83,72</text>
<text x="498.7" y="208.7" font-size="15" font-weight="normal" fill="#17306b" textLength="85.4" lengthAdjust="spacingAndGlyphs">Житомирська</text>
<text x="524.5" y="235" font-size="16" font-weight="bold" fill="#111" textLength="48.2" lengthAdjust="spacingAndGlyphs">16901</text>
<rect x="525" y="236.2" width="47.3" height="1.5" fill="#111"/>
<text x="531.5" y="257" font-size="16" font-weight="bold" fill="#5e8830" textLength="34.4" lengthAdjust="spacingAndGlyphs">47,7</text>
<text x="598.5" y="226.2" font-size="15" font-weight="normal" fill="#17306b" textLength="50.6" lengthAdjust="spacingAndGlyphs">Київська</text>
<text x="614.8" y="272.7" font-size="16" font-weight="bold" fill="#111" textLength="43.1" lengthAdjust="spacingAndGlyphs">22440</text>
<rect x="615.3" y="274.2" width="42.2" height="1.5" fill="#111"/>
<text x="618.5" y="295" font-size="16" font-weight="bold" fill="#5e8830" textLength="37.4" lengthAdjust="spacingAndGlyphs">75,08</text>
<text x="681" y="164.9" font-size="15" font-weight="normal" fill="#17306b" textLength="71.8" lengthAdjust="spacingAndGlyphs">Чернігівська</text>
<text x="696" y="191.2" font-size="16" font-weight="bold" fill="#111" textLength="42.4" lengthAdjust="spacingAndGlyphs">27091</text>
<rect x="696.5" y="191.8" width="41.5" height="1.5" fill="#111"/>
<text x="699" y="213.2" font-size="16" font-weight="bold" fill="#5e8830" textLength="38.2" lengthAdjust="spacingAndGlyphs">56,10</text>
<text x="766" y="174.7" font-size="15" font-weight="normal" fill="#17306b" textLength="49.3" lengthAdjust="spacingAndGlyphs">Сумська</text>
<text x="812.8" y="213.2" font-size="16" font-weight="bold" fill="#111" textLength="48.6" lengthAdjust="spacingAndGlyphs">25331</text>
<rect x="813.3" y="213.6" width="47.7" height="1.5" fill="#111"/>
<text x="819" y="235" font-size="16" font-weight="bold" fill="#5e8830" textLength="38.2" lengthAdjust="spacingAndGlyphs">44,37</text>
<text x="349.2" y="296.9" font-size="15" font-weight="normal" fill="#17306b" textLength="86.1" lengthAdjust="spacingAndGlyphs">Тернопільська</text>
<text x="377.3" y="319" font-size="16" font-weight="bold" fill="#111" textLength="39.1" lengthAdjust="spacingAndGlyphs">5480</text>
<rect x="377.8" y="320.6" width="38.2" height="1.5" fill="#111"/>
<text x="378.5" y="340.7" font-size="16" font-weight="bold" fill="#548235" textLength="37.9" lengthAdjust="spacingAndGlyphs">87,33</text>
<text x="422.2" y="279.9" font-size="15" font-weight="normal" fill="#17306b" textLength="81.9" lengthAdjust="spacingAndGlyphs">Хмельницька</text>
<text x="440.3" y="319" font-size="16" font-weight="bold" fill="#111" textLength="49.4" lengthAdjust="spacingAndGlyphs">19218</text>
<rect x="440.8" y="320.6" width="48.5" height="1.5" fill="#111"/>
<text x="447.8" y="340.7" font-size="16" font-weight="bold" fill="#5e8830" textLength="37.6" lengthAdjust="spacingAndGlyphs">73,43</text>
<text x="284.7" y="342.9" font-size="15" font-weight="normal" fill="#17306b" textLength="90.6" lengthAdjust="spacingAndGlyphs">Ів.-Франківська</text>
<text x="331.5" y="365.7" font-size="16" font-weight="bold" fill="#111" textLength="34.9" lengthAdjust="spacingAndGlyphs">1389</text>
<rect x="332" y="367.2" width="34" height="1.5" fill="#111"/>
<text x="322.3" y="388.2" font-size="16" font-weight="bold" fill="#548235" textLength="52.4" lengthAdjust="spacingAndGlyphs">114,51</text>
<text x="202.2" y="357.9" font-size="15" font-weight="normal" fill="#17306b" textLength="79.4" lengthAdjust="spacingAndGlyphs">Закарпатська</text>
<text x="252.3" y="382" font-size="16" font-weight="bold" fill="#111" textLength="35.6" lengthAdjust="spacingAndGlyphs">3482</text>
<rect x="252.8" y="383.1" width="34.7" height="1.5" fill="#111"/>
<text x="251.5" y="403.7" font-size="16" font-weight="bold" fill="#548235" textLength="37.4" lengthAdjust="spacingAndGlyphs">71,84</text>
<text x="519.7" y="327.9" font-size="15" font-weight="normal" fill="#17306b" textLength="61.9" lengthAdjust="spacingAndGlyphs">Вінницька</text>
<text x="526" y="355.7" font-size="16" font-weight="bold" fill="#111" textLength="48.7" lengthAdjust="spacingAndGlyphs">23023</text>
<rect x="526.5" y="357.2" width="47.8" height="1.5" fill="#111"/>
<text x="529" y="377.5" font-size="16" font-weight="bold" fill="#5e8830" textLength="43.2" lengthAdjust="spacingAndGlyphs">75,67</text>
<text x="679.7" y="306.9" font-size="15" font-weight="normal" fill="#17306b" textLength="61.9" lengthAdjust="spacingAndGlyphs">Черкаська</text>
<text x="656" y="330.2" font-size="16" font-weight="bold" fill="#111" textLength="48.2" lengthAdjust="spacingAndGlyphs">19953</text>
<rect x="656.5" y="331.1" width="47.3" height="1.5" fill="#111"/>
<text x="662.8" y="352" font-size="16" font-weight="bold" fill="#5e8830" textLength="34.4" lengthAdjust="spacingAndGlyphs">61,9</text>
<text x="694.2" y="374.9" font-size="15" font-weight="normal" fill="#17306b" textLength="93.1" lengthAdjust="spacingAndGlyphs">Кіровоградська</text>
<text x="709.5" y="397.7" font-size="16" font-weight="bold" fill="#111" textLength="43.2" lengthAdjust="spacingAndGlyphs">26458</text>
<rect x="710" y="399.2" width="42.3" height="1.5" fill="#111"/>
<text x="711.5" y="419.5" font-size="16" font-weight="bold" fill="#5e8830" textLength="38.2" lengthAdjust="spacingAndGlyphs">57,72</text>
<text x="766" y="278.7" font-size="15" font-weight="normal" fill="#17306b" textLength="68.1" lengthAdjust="spacingAndGlyphs">Полтавська</text>
<text x="777.8" y="301.2" font-size="16" font-weight="bold" fill="#111" textLength="43.1" lengthAdjust="spacingAndGlyphs">38195</text>
<rect x="778.3" y="302.6" width="42.2" height="1.5" fill="#111"/>
<text x="778.5" y="323.2" font-size="16" font-weight="bold" fill="#5e8830" textLength="42.4" lengthAdjust="spacingAndGlyphs">77,12</text>
<text x="906" y="275.7" font-size="15" font-weight="normal" fill="#17306b" textLength="64.3" lengthAdjust="spacingAndGlyphs">Харківська</text>
<text x="909.8" y="305.2" font-size="16" font-weight="bold" fill="#111" textLength="49.4" lengthAdjust="spacingAndGlyphs">26270</text>
<rect x="910.3" y="306.8" width="48.5" height="1.5" fill="#111"/>
<text x="915.3" y="327" font-size="16" font-weight="bold" fill="#5e8830" textLength="39.4" lengthAdjust="spacingAndGlyphs">45,48</text>
<text x="821" y="373.7" font-size="15" font-weight="normal" fill="#17306b" textLength="111.3" lengthAdjust="spacingAndGlyphs">Дніпропетровська</text>
<text x="800.3" y="408.7" font-size="16" font-weight="bold" fill="#111" textLength="47.9" lengthAdjust="spacingAndGlyphs">28370</text>
<rect x="800.8" y="410.1" width="47" height="1.5" fill="#111"/>
<text x="801.5" y="430.7" font-size="16" font-weight="bold" fill="#5e8830" textLength="43.9" lengthAdjust="spacingAndGlyphs">44,14</text>
<text x="972.2" y="388.7" font-size="15" font-weight="normal" fill="#17306b" textLength="60.1" lengthAdjust="spacingAndGlyphs">Донецька</text>
<text x="991" y="417" font-size="16" font-weight="bold" fill="#111" textLength="25.7" lengthAdjust="spacingAndGlyphs">606</text>
<rect x="991.5" y="418.6" width="24.8" height="1.5" fill="#111"/>
<text x="981.5" y="438.7" font-size="16" font-weight="bold" fill="#548235" textLength="43.7" lengthAdjust="spacingAndGlyphs">52,24</text>
<text x="874.2" y="446.2" font-size="15" font-weight="normal" fill="#17306b" textLength="64.9" lengthAdjust="spacingAndGlyphs">Запорізька</text>
<text x="881.5" y="470.7" font-size="16" font-weight="bold" fill="#111" textLength="35.7" lengthAdjust="spacingAndGlyphs">3000</text>
<rect x="882" y="471.2" width="34.8" height="1.5" fill="#111"/>
<text x="876.5" y="492.7" font-size="16" font-weight="bold" fill="#548235" textLength="43.2" lengthAdjust="spacingAndGlyphs">37,72</text>
<text x="776" y="494.9" font-size="15" font-weight="normal" fill="#17306b" textLength="70.3" lengthAdjust="spacingAndGlyphs">Херсонська</text>
<text x="788.5" y="525.7" font-size="16" font-weight="bold" fill="#111" textLength="34.4" lengthAdjust="spacingAndGlyphs">1265</text>
<rect x="789" y="527.2" width="33.5" height="1.5" fill="#111"/>
<text x="782.8" y="547.7" font-size="16" font-weight="bold" fill="#548235" textLength="43.1" lengthAdjust="spacingAndGlyphs">35,43</text>
<text x="651.7" y="450.4" font-size="15" font-weight="normal" fill="#17306b" textLength="84.1" lengthAdjust="spacingAndGlyphs">Миколаївська</text>
<text x="690.3" y="470.7" font-size="16" font-weight="bold" fill="#111" textLength="44.4" lengthAdjust="spacingAndGlyphs">21318</text>
<rect x="690.8" y="472.2" width="43.5" height="1.5" fill="#111"/>
<text x="691" y="492.7" font-size="16" font-weight="bold" fill="#5e8830" textLength="42.9" lengthAdjust="spacingAndGlyphs">36,92</text>
<text x="578.5" y="448.6" font-size="15" font-weight="normal" fill="#b9cbe9" textLength="50.6" lengthAdjust="spacingAndGlyphs">Одеська</text>
<text x="605.3" y="477" font-size="16" font-weight="bold" fill="#111" textLength="42.6" lengthAdjust="spacingAndGlyphs">38347</text>
<rect x="605.8" y="478.5" width="41.7" height="1.5" fill="#111"/>
<text x="607" y="499" font-size="16" font-weight="bold" fill="#5e8830" textLength="38.2" lengthAdjust="spacingAndGlyphs">40,55</text>
<text x="380.2" y="383.4" font-size="15" font-weight="normal" fill="#17306b" textLength="75.1" lengthAdjust="spacingAndGlyphs">Чернівецька</text>
<text x="394.2" y="401.3" font-size="14" font-weight="bold" fill="#111" textLength="34.2" lengthAdjust="spacingAndGlyphs">2880</text>
<rect x="394.5" y="402.3" width="33.5" height="1.4" fill="#111"/>
<text x="396" y="419.8" font-size="13.5" font-weight="bold" fill="#548235" textLength="31.1" lengthAdjust="spacingAndGlyphs">62,47</text>
<text x="1039.2" y="327.5" font-size="15" font-weight="normal" fill="#17306b" textLength="61.1" lengthAdjust="spacingAndGlyphs">Луганська</text>
<text x="808" y="641.9" font-size="15" font-weight="normal" fill="#17306b" textLength="52.3" lengthAdjust="spacingAndGlyphs">АР Крим</text>
<text x="635.5" y="655.3" font-size="14" font-weight="bold" fill="#1f4e79" textLength="69.9" lengthAdjust="spacingAndGlyphs" style="font-family:'DejaVu Sans', 'Liberation Sans', sans-serif">Площа, га</text>
<text x="589.7" y="693.7" font-size="13.5" font-weight="bold" fill="#1f4e79" textLength="26.1" lengthAdjust="spacingAndGlyphs" style="font-family:'DejaVu Sans', 'Liberation Sans', sans-serif">606</text>
<text x="706.7" y="693.7" font-size="13.5" font-weight="bold" fill="#1f4e79" textLength="41.4" lengthAdjust="spacingAndGlyphs" style="font-family:'DejaVu Sans', 'Liberation Sans', sans-serif">38195</text>
<text x="522.5" y="35.8" font-size="21.3" font-weight="bold" fill="#1f4e79" text-anchor="middle" textLength="628" lengthAdjust="spacingAndGlyphs" style="font-family:'DejaVu Sans', 'Liberation Sans', sans-serif">РЕЗУЛЬТАТИ КУПІВЛІ-ПРОДАЖУ ЗЕМЕЛЬНИХ ДІЛЯНОК</text>
<text x="522.5" y="58.6" font-size="21.3" font-weight="bold" fill="#1f4e79" text-anchor="middle" textLength="783" lengthAdjust="spacingAndGlyphs" style="font-family:'DejaVu Sans', 'Liberation Sans', sans-serif">СІЛЬСЬКОГОСПОДАРСЬКОГО ПРИЗНАЧЕННЯ, НА ЯКІ ПОШИРЮВАВСЯ</text>
<text x="522.5" y="80.6" font-size="21.3" font-weight="bold" fill="#1f4e79" text-anchor="middle" textLength="288" lengthAdjust="spacingAndGlyphs" style="font-family:'DejaVu Sans', 'Liberation Sans', sans-serif">МОРАТОРІЙ, У 2025 РОЦІ</text>
<rect x="973" y="18" width="7" height="61.5" fill="#fff"/>
<g transform="translate(988.6,0) scale(0.62,1)" filter="url(#fat)"><text x="0" y="45.6" font-size="39" font-weight="bold" fill="url(#lg)" letter-spacing="5.3">ДЕРЖГЕОКАДАСТР</text></g>
<rect x="988" y="57.8" width="280" height="1" fill="#2a9d7a"/>
<text x="988" y="74.5" font-size="16" font-weight="normal" fill="#2a9a7a" stroke="#2a9a7a" stroke-width="0.45" textLength="280" lengthAdjust="spacingAndGlyphs">ДЕРЕГУЛЯЦІЯ ▪ ДІДЖИТАЛІЗАЦІЯ ▪ ДЕТІНІЗАЦІЯ</text>
<rect x="988" y="78.8" width="280" height="1" fill="#2a9d7a"/>
<text x="49.1" y="463.9" font-size="15.5" font-weight="bold" fill="#111" textLength="79.9" lengthAdjust="spacingAndGlyphs">960 890 га</text>
<text x="131.6" y="463.9" font-size="15.5" font-weight="normal" fill="#203864" textLength="303.2" lengthAdjust="spacingAndGlyphs">– загальна площа відчужених земельних</text>
<text x="49.1" y="482.9" font-size="15.5" font-weight="normal" fill="#203864" textLength="386.9" lengthAdjust="spacingAndGlyphs">ділянок, на які поширювався мораторій,  з  моменту</text>
<text x="49.1" y="501.7" font-size="15.5" font-weight="normal" fill="#203864" textLength="274.4" lengthAdjust="spacingAndGlyphs">скасування мораторію (з 01.07.2021)</text>
<text x="49.1" y="520.7" font-size="15.5" font-weight="bold" fill="#203864" textLength="81.2" lengthAdjust="spacingAndGlyphs">42 тис. грн</text>
<text x="132.9" y="520.7" font-size="15.5" font-weight="normal" fill="#203864" textLength="285.6" lengthAdjust="spacingAndGlyphs">– середня ціна  відчужених земельних</text>
<text x="49.1" y="540.4" font-size="15.5" font-weight="normal" fill="#203864" textLength="360.7" lengthAdjust="spacingAndGlyphs">ділянок, на які поширювався мораторій, за 1 га з</text>
<text x="49.1" y="559.4" font-size="15.5" font-weight="normal" fill="#203864" textLength="343.2" lengthAdjust="spacingAndGlyphs">моменту скасування мораторію (з 01.07.2021)</text>
<text x="49.6" y="592.7" font-size="15.5" font-weight="bold" fill="#203864" textLength="79.4" lengthAdjust="spacingAndGlyphs">356 540 га</text>
<text x="132.1" y="592.7" font-size="15.5" font-weight="normal" fill="#203864" textLength="303.9" lengthAdjust="spacingAndGlyphs">– загальна площа відчужених земельних</text>
<text x="49.6" y="610.7" font-size="15.5" font-weight="normal" fill="#203864" textLength="386.4" lengthAdjust="spacingAndGlyphs">ділянок, на які поширювався мораторій, у 2025 році</text>
<text x="49.6" y="629.9" font-size="15.5" font-weight="normal" fill="#203864" textLength="103.2" lengthAdjust="spacingAndGlyphs">(у 2024 році –</text>
<text x="157.9" y="629.9" font-size="15.5" font-weight="bold" fill="#203864" textLength="78.6" lengthAdjust="spacingAndGlyphs">320 660 га</text>
<text x="234.9" y="629.9" font-size="15.5" font-weight="normal" fill="#203864" textLength="4.9" lengthAdjust="spacingAndGlyphs">)</text>
<text x="51.1" y="669.9" font-size="15.5" font-weight="bold" fill="#3c7a2c" textLength="76.9" lengthAdjust="spacing">57,4 тис. грн</text>
<text x="129.1" y="669.9" font-size="15.5" font-weight="normal" fill="#203864" textLength="284.9" lengthAdjust="spacingAndGlyphs">– середня ціна  відчужених земельних</text>
<text x="51.1" y="688.7" font-size="15.5" font-weight="normal" fill="#203864" textLength="401.9" lengthAdjust="spacingAndGlyphs">ділянок, на які поширювався мораторій за 1 га, у 2025</text>
<text x="51.1" y="707.4" font-size="15.5" font-weight="normal" fill="#203864" textLength="137.9" lengthAdjust="spacingAndGlyphs">році (у 2024 році –</text>
<text x="193.6" y="707.4" font-size="15.5" font-weight="bold" fill="#203864" textLength="79.9" lengthAdjust="spacing">46,7 тис. грн)</text>
<text x="108.8" y="725.8" font-size="11" fill="#7a7a7a" textLength="115" lengthAdjust="spacingAndGlyphs">Created with Datawrapper</text>
<text x="930.2" y="546.8" font-size="17" font-weight="normal" fill="#203864" textLength="324.7" lengthAdjust="spacingAndGlyphs">За період функціонування ринку земель</text>
<text x="964.3" y="567.9" font-size="17" font-weight="normal" fill="#203864" textLength="255" lengthAdjust="spacingAndGlyphs">за договорами купівлі-продажу</text>
<text x="991.6" y="588.6" font-size="17" font-weight="normal" fill="#203864" textLength="84.6" lengthAdjust="spacingAndGlyphs">відчужено</text>
<text x="1084.6" y="588.6" font-size="17" font-weight="bold" fill="#3b3b3b" textLength="47.4" lengthAdjust="spacingAndGlyphs">5,49%</text>
<text x="1135.6" y="588.6" font-size="17" font-weight="normal" fill="#203864" textLength="58.7" lengthAdjust="spacingAndGlyphs">земель</text>
<text x="937.6" y="610" font-size="17" font-weight="normal" fill="#203864" textLength="309.3" lengthAdjust="spacingAndGlyphs">сільськогосподарського  призначення,</text>
<text x="967.9" y="630.2" font-size="17" font-weight="normal" fill="#203864" textLength="247.8" lengthAdjust="spacingAndGlyphs">на які поширювався мораторій</text>
</svg>
</body></html>
